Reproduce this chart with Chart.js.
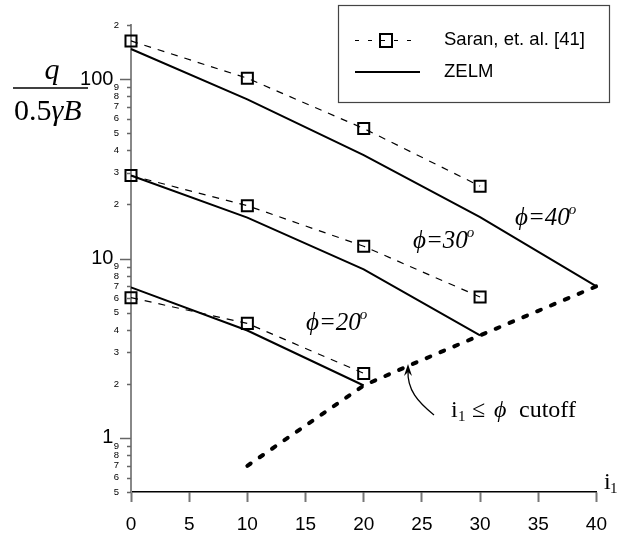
<!DOCTYPE html>
<html>
<head>
<meta charset="utf-8">
<script src="https://cdn.jsdelivr.net/npm/chart.js@4.4.1/dist/chart.umd.min.js"></script>
<style>
  html, body { margin: 0; padding: 0; background: #fff; }
  #wrap { width: 618px; height: 537px; }
</style>
</head>
<body>
<div id="wrap"><canvas id="chartCanvas" width="618" height="537"></canvas></div>
<script>
// inclination i1 (deg)
const angles = [0, 10, 20, 30];
const anglesZ40 = [0, 10, 20, 30, 40];
const anglesZ30 = [0, 10, 20, 30];
const anglesZ20 = [0, 10, 20];

// Saran et al. [41]
const saran40 = [163, 101, 53, 25.3];
const saran30 = [29, 19.7, 11.7, 6.1];
const saran20 = [6.05, 4.35, 2.29];

// ZELM
const zelm40 = [147, 77, 37.7, 17, 7.0];
const zelm30 = [29, 16.9, 8.7, 3.73];
const zelm20 = [6.9, 3.97, 1.96];

// i1 <= phi cutoff
const cutoffX = [10, 20, 24, 30, 40];
const cutoffY = [0.7, 1.96, 2.55, 3.73, 7.0];

const xTicks = [0, 5, 10, 15, 20, 25, 30, 35, 40];
const yTicks = [0.5, 0.6, 0.7, 0.8, 0.9, 1, 2, 3, 4, 5, 6, 7, 8, 9,
  10, 20, 30, 40, 50, 60, 70, 80, 90, 100, 200];
const yMajor = [1, 10, 100];

function pts(xs, ys) {
  return ys.map((y, i) => ({ x: xs[i], y: y }));
}

const saranStyle = {
  borderColor: "#000",
  borderWidth: 1.2,
  borderDash: [7, 7],
  pointStyle: "rect",
  pointRadius: 7.8,
  pointBorderWidth: 2,
  pointBorderColor: "#000",
  pointBackgroundColor: "rgba(0,0,0,0)",
  showLine: true,
  clip: false,
};
const zelmStyle = {
  borderColor: "#000",
  borderWidth: 2,
  pointRadius: 0,
  showLine: true,
  clip: false,
};

function tickLabel(v) {
  if (yMajor.includes(v)) return String(v) + " ";
  const e = Math.floor(Math.log10(v) + 1e-9);
  return String(Math.round(v / Math.pow(10, e)));
}

const overlay = {
  id: "overlay",
  afterDraw(chart) {
    const ctx = chart.ctx;
    const y = chart.scales.y;
    const area = chart.chartArea;
    ctx.save();
    // y tick marks
    ctx.strokeStyle = "#666";
    ctx.lineWidth = 1.5;
    yTicks.forEach(v => {
      const py = Math.round(y.getPixelForValue(v)) + 0.5;
      const len = yMajor.includes(v) ? 11 : 4;
      ctx.beginPath();
      ctx.moveTo(area.left - len, py);
      ctx.lineTo(area.left, py);
      ctx.stroke();
    });

    // y title as a fraction
    ctx.fillStyle = "#000";
    ctx.textBaseline = "alphabetic";
    ctx.textAlign = "center";
    ctx.font = "italic 30px 'Liberation Serif'";
    ctx.fillText("q", 52, 79);
    ctx.strokeStyle = "#000";
    ctx.lineWidth = 1.5;
    ctx.beginPath();
    ctx.moveTo(13, 88);
    ctx.lineTo(88, 88);
    ctx.stroke();
    ctx.textAlign = "left";
    ctx.font = "30px 'Liberation Serif'";
    ctx.fillText("0.5", 14, 120);
    const w05 = ctx.measureText("0.5").width;
    ctx.font = "italic 30px 'Liberation Serif'";
    ctx.fillText("\u03B3B", 14 + w05, 120);

    // x title i1
    ctx.font = "24px 'Liberation Serif'";
    ctx.fillText("i", 604, 489);
    ctx.font = "15px 'Liberation Serif'";
    ctx.fillText("1", 610, 493);

    // phi labels
    function phi(text, x, yb) {
      ctx.font = "italic 25px 'Liberation Serif'";
      ctx.textAlign = "left";
      ctx.fillText(text, x, yb);
      const w = ctx.measureText(text).width;
      ctx.font = "italic 15px 'Liberation Serif'";
      ctx.fillText("o", x + w - 1, yb - 11);
    }
    phi("\u03D5=40", 515, 225);
    phi("\u03D5=30", 413, 248);
    phi("\u03D5=20", 306, 330);

    // cutoff label
    ctx.font = "24px 'Liberation Serif'";
    ctx.fillText("i", 451, 417);
    ctx.font = "15px 'Liberation Serif'";
    ctx.fillText("1", 458, 421);
    ctx.font = "24px 'Liberation Serif'";
    ctx.fillText("\u2264", 472, 417);
    ctx.font = "italic 24px 'Liberation Serif'";
    ctx.fillText("\u03D5", 494, 417);
    ctx.font = "24px 'Liberation Serif'";
    ctx.fillText("cutoff", 519, 417);

    // arrow
    ctx.lineWidth = 1.3;
    ctx.beginPath();
    ctx.moveTo(434, 415);
    ctx.bezierCurveTo(418, 402, 407, 390, 408, 370);
    ctx.stroke();
    ctx.beginPath();
    ctx.moveTo(408, 364);
    ctx.lineTo(404, 376);
    ctx.lineTo(408, 372);
    ctx.lineTo(412, 376);
    ctx.closePath();
    ctx.fill();

    // legend box
    ctx.fillStyle = "#fff";
    ctx.fillRect(338, 5, 272, 98);
    ctx.strokeStyle = "#444";
    ctx.lineWidth = 1.2;
    ctx.strokeRect(338.5, 5.5, 271, 97);
    ctx.strokeStyle = "#000";
    ctx.lineWidth = 1.2;
    ctx.setLineDash([4, 9]);
    ctx.beginPath();
    ctx.moveTo(355, 40.5);
    ctx.lineTo(420, 40.5);
    ctx.stroke();
    ctx.setLineDash([]);
    ctx.lineWidth = 2;
    ctx.strokeRect(380, 34, 12, 13);
    ctx.beginPath();
    ctx.moveTo(355, 72);
    ctx.lineTo(420, 72);
    ctx.stroke();
    ctx.fillStyle = "#000";
    ctx.font = "18.5px 'Liberation Sans'";
    ctx.textBaseline = "middle";
    ctx.fillText("Saran, et. al. [41]", 444, 40);
    ctx.fillText("ZELM", 444, 72);
    ctx.restore();
  },
};

const chartCanvas = document.getElementById("chartCanvas");

const chart = new Chart(chartCanvas, {
  type: "scatter",
  data: {
    datasets: [
      Object.assign({ label: "Saran 40", data: pts(angles, saran40) }, saranStyle),
      Object.assign({ label: "Saran 30", data: pts(angles, saran30) }, saranStyle),
      Object.assign({ label: "Saran 20", data: pts(angles, saran20) }, saranStyle),
      Object.assign({ label: "ZELM 40", data: pts(anglesZ40, zelm40) }, zelmStyle),
      Object.assign({ label: "ZELM 30", data: pts(anglesZ30, zelm30) }, zelmStyle),
      Object.assign({ label: "ZELM 20", data: pts(anglesZ20, zelm20) }, zelmStyle),
      {
        label: "cutoff",
        data: pts(cutoffX, cutoffY),
        showLine: true,
        borderColor: "#000",
        borderWidth: 4,
        borderDash: [4, 11],
        borderCapStyle: "round",
        pointRadius: 0,
        clip: false,
      },
    ],
  },
  options: {
    responsive: false,
    animation: false,
    events: [],
    layout: { padding: { top: 25, right: 21, left: 0, bottom: 0 } },
    plugins: { legend: { display: false }, tooltip: { enabled: false } },
    scales: {
      x: {
        type: "linear",
        min: 0,
        max: 40,
        afterBuildTicks: (s) => { s.ticks = xTicks.map(v => ({ value: v })); },
        afterFit: (s) => { s.height = 45; },
        ticks: {
          color: "#000",
          font: { family: "'Liberation Sans'", size: 19 },
          padding: 11,
          autoSkip: false,
          maxRotation: 0,
        },
        grid: { drawOnChartArea: false, drawTicks: true, tickLength: 10, tickColor: "#777", tickWidth: 2 },
        border: { color: "#000", width: 1.5 },
      },
      y: {
        type: "logarithmic",
        min: 0.5,
        max: 200,
        afterBuildTicks: (s) => {
          s.ticks = yTicks.map(v => ({ value: v, major: yMajor.includes(v) }));
        },
        afterFit: (s) => { s.width = 131; },
        ticks: {
          color: "#000",
          autoSkip: false,
          padding: 12,
          callback: (v) => tickLabel(v),
          font: (c) => (c.tick && c.tick.major)
            ? { family: "'Liberation Sans'", size: 20 }
            : { family: "'Liberation Sans'", size: 9.5 },
        },
        grid: { drawOnChartArea: false, drawTicks: false },
        border: { color: "#888", width: 2 },
      },
    },
  },
  plugins: [overlay],
});
</script>
</body>
</html>
